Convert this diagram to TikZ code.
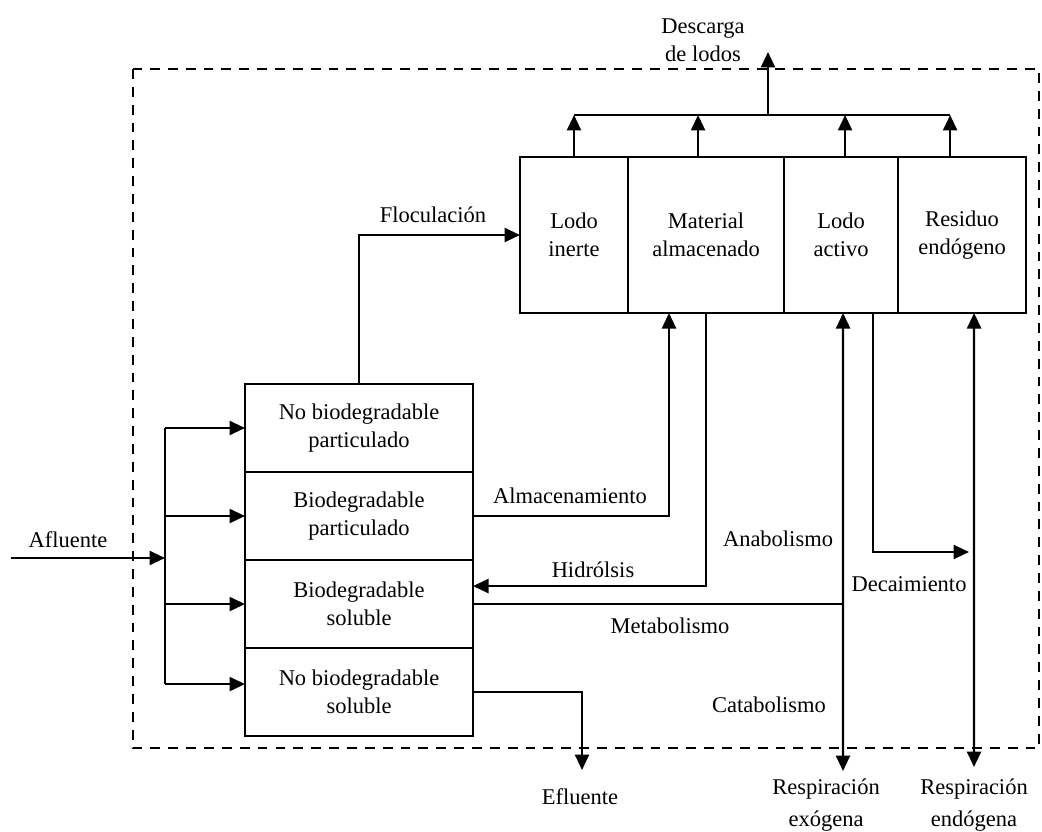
\documentclass[tikz,border=0pt]{standalone}
\usepackage{fontspec}
\setmainfont{Liberation Serif}
\usetikzlibrary{arrows.meta,calc}

\begin{document}
\begin{tikzpicture}[x=0.025cm,y=-0.025cm,line width=1.6pt,
  font=\fontsize{16}{19.8}\selectfont,
  >={Triangle[length=11pt,width=10pt]},
  caja/.style={draw,align=center,inner sep=0pt,outer sep=0pt},
  alta/.style={caja,minimum height=3.9cm},
  baja/.style={caja,minimum width=5.7cm,minimum height=2.2cm},
  rotulo/.style={align=center,inner sep=1pt}]
  \useasboundingbox (0,0) rectangle (1042,832);
  \draw[dash pattern=on 7pt off 5.7pt] (133,69) rectangle (1039,748);

  \node[alta,minimum width=2.7cm,anchor=north west] (inerte) at (520,157)
    {Lodo\\inerte};
  \node[alta,minimum width=3.9cm,anchor=north west] (material)
    at (inerte.north east) {Material\\almacenado};
  \node[alta,minimum width=2.85cm,anchor=north west] (activo)
    at (material.north east) {Lodo\\activo};
  \node[alta,minimum width=3.2cm,anchor=north west] (residuo)
    at (activo.north east) {Residuo\\endógeno};

  \node[baja,anchor=north west] (npart) at (245,384)
    {No biodegradable\\particulado};
  \node[baja,anchor=north] (bpart) at (npart.south)
    {Biodegradable\\particulado};
  \node[baja,anchor=north] (bsol) at (bpart.south)
    {Biodegradable\\soluble};
  \node[baja,anchor=north] (nsol) at (bsol.south)
    {No biodegradable\\soluble};

  \coordinate (barra) at (768,115);
  \coordinate (descarga-fin) at (768,52);
  \coordinate (m-top) at ([xshift=-0.2cm]material.north);
  \coordinate (a-top) at ([xshift=0.1cm]activo.north);
  \coordinate (r-top) at ([xshift=-0.3cm]residuo.north);
  \draw (inerte.north |- barra) -- (r-top |- barra);
  \foreach \c in {inerte.north,m-top,a-top,r-top}
    \draw[->] (\c) -- (\c |- barra);
  \draw[->] (barra) -- (descarga-fin);
  \node[rotulo] (descarga) at (703,40) {Descarga\\de lodos};

  \coordinate (afluente-ini) at (11,558);
  \coordinate (entrada) at (165,558);
  \coordinate (ns-in) at ([yshift=0.2cm]nsol.west);
  \draw[->] (afluente-ini) -- (entrada);
  \draw (entrada |- npart.west) -- (entrada |- ns-in);
  \foreach \b in {npart.west,bpart.west,bsol.west,ns-in}
    \draw[->] (entrada |- \b) -- (\b);
  \node[rotulo] (afluente) at (68,540) {Afluente};

  \draw[->] (npart.north) |- (inerte.west);
  \node[rotulo] (floc) at (433,215) {Floculación};

  \coordinate (alm-fin) at ([xshift=-0.925cm]material.south);
  \draw[->] (bpart.east) -| (alm-fin);
  \node[rotulo] (alm) at (570,496) {Almacenamiento};

  \coordinate (hid-fin) at ([yshift=0.45cm]bsol.east);
  \draw[->] (material.south) |- (hid-fin);
  \node[rotulo] (hid) at (593,570) {Hidrólsis};

  \coordinate (a-bot) at ([xshift=0.05cm]activo.south);
  \coordinate (exo-fin) at (843,771);
  \draw (bsol.east) -- (a-bot |- bsol.east);
  \draw[<->] (a-bot) -- (exo-fin);
  \node[rotulo] (ana) at (778,539) {Anabolismo};
  \node[rotulo] (meta) at (670,626) {Metabolismo};
  \node[rotulo] (cata) at (769,705) {Catabolismo};

  \coordinate (dec-ini) at ([xshift=0.8cm]activo.south);
  \coordinate (dec-fin) at (969,552);
  \draw[->] (dec-ini) |- (dec-fin);
  \node[rotulo] (dec) at (909,584) {Decaimiento};

  \coordinate (r-bot) at ([xshift=0.3cm]residuo.south);
  \coordinate (endo-fin) at (974,767);
  \draw[<->] (r-bot) -- (endo-fin);

  \coordinate (efl-fin) at (582,770);
  \draw[->] (nsol.east) -| (efl-fin);
  \node[rotulo] (efl) at (580,797) {Efluente};

  \node[rotulo] (exo) at (826,805) {Respiración\\[3pt]exógena};
  \node[rotulo] (endo) at (974,805) {Respiración\\[3pt]endógena};
\end{tikzpicture}
\end{document}
